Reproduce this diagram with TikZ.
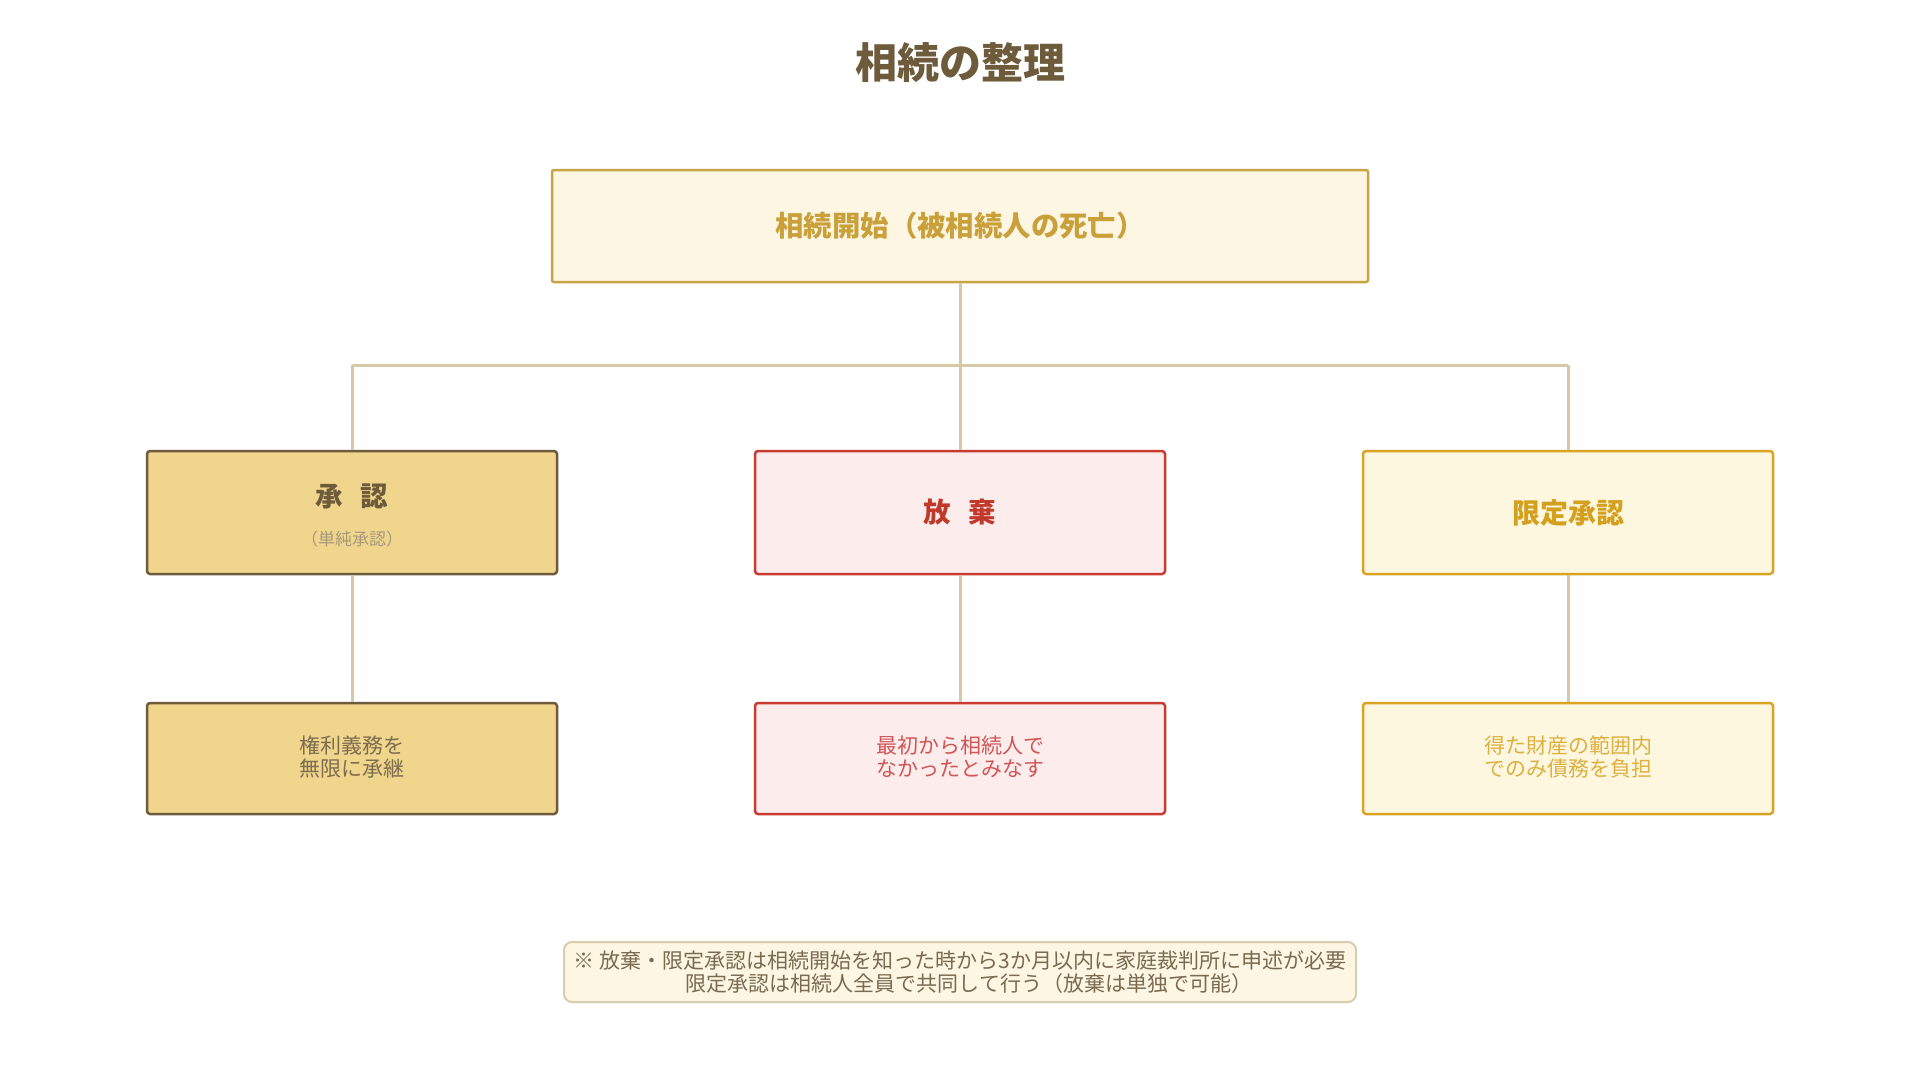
\documentclass[tikz,border=0pt]{standalone}
\usepackage{fontspec}
\newfontfamily\jp{Noto Sans CJK JP}
\definecolor{titlec}{HTML}{6E5B3C}
\definecolor{topfill}{HTML}{FDF6E3}
\definecolor{topdraw}{HTML}{C9A445}
\definecolor{toptext}{HTML}{C9A03A}
\definecolor{accfill}{HTML}{F0D68C}
\definecolor{accdraw}{HTML}{6E5B3C}
\definecolor{accsub}{HTML}{A8987A}
\definecolor{acctext}{HTML}{7D6C4E}
\definecolor{renfill}{HTML}{FDECEC}
\definecolor{rendraw}{HTML}{C83A32}
\definecolor{rentitle}{HTML}{C0392B}
\definecolor{rentext}{HTML}{D05555}
\definecolor{limfill}{HTML}{FEF7E0}
\definecolor{limdraw}{HTML}{D8A422}
\definecolor{limtitle}{HTML}{D4A020}
\definecolor{limtext}{HTML}{DDB040}
\definecolor{linkc}{HTML}{D6C9A6}
\definecolor{notefill}{HTML}{FDF6E3}
\definecolor{notedraw}{HTML}{D9CDAF}
\definecolor{notetext}{HTML}{7A6A50}
\tikzset{
  box/.style={draw, line width=2.5pt, rounded corners=3pt, minimum width=410pt, inner sep=0pt},
  midbox/.style={box, minimum height=123pt},
  lowbox/.style={box, minimum height=111pt},
  link/.style={draw=linkc, line width=3pt},
  lowtext/.style={font=\jp\fontsize{21}{23.5}\selectfont, align=center},
  midtitle/.style={font=\jp\bfseries\fontsize{27.5}{30}\selectfont},
}
\begin{document}
\begin{tikzpicture}[x=1pt,y=-1pt]
\useasboundingbox (0,0) rectangle (1920,1092);
\fill[white] (0,0) rectangle (1920,1092);

\node[font=\jp\bfseries\fontsize{42}{48}\selectfont, text=titlec] (title) at (960,63) {相続の整理};

\node[draw=topdraw, fill=topfill, line width=2.5pt, rounded corners=2pt, minimum width=816pt, minimum height=112pt, inner sep=0pt,
      font=\jp\bfseries\fontsize{28.4}{32}\selectfont, text=toptext] (start) at (960,226) {相続開始（被相続人の死亡）};

% middle row
\node[midbox, draw=accdraw, fill=accfill] (acc) at (352,512.5) {};
\node[midtitle, text=accdraw] (acct) at (352,496) {承\hspace{0.62em}認};
\node[font=\jp\fontsize{17}{20}\selectfont, text=accsub] (accs) at (352,539) {（単純承認）};

\node[midbox, draw=rendraw, fill=renfill, midtitle, text=rentitle] (ren) at (960,512.5) {放\hspace{0.62em}棄};

\node[midbox, draw=limdraw, fill=limfill, font=\jp\bfseries\fontsize{28}{30}\selectfont, text=limtitle] (lim) at (1568,512.5) {限定承認};

% bottom row
\node[lowbox, draw=accdraw, fill=accfill] (accb) at (352,758.5) {};
\node[lowtext, text=acctext] (accbt) at (352,757) {権利義務を\\無限に承継};

\node[lowbox, draw=rendraw, fill=renfill] (renb) at (960,758.5) {};
\node[lowtext, text=rentext] (renbt) at (960,757) {最初から相続人で\\なかったとみなす};

\node[lowbox, draw=limdraw, fill=limfill] (limb) at (1568,758.5) {};
\node[lowtext, text=limtext] (limbt) at (1568,757) {得た財産の範囲内\\でのみ債務を負担};

% connectors
\coordinate (jc) at (960,365);
\coordinate (jl) at (352,365);
\coordinate (jr) at (1568,365);
\path[link] (start.south) -- (jc);
\path[link] (jl) -- (jr);
\path[link] (jl) -- (acc.north);
\path[link] (jc) -- (ren.north);
\path[link] (jr) -- (lim.north);
\path[link] (acc.south) -- (accb.north);
\path[link] (ren.south) -- (renb.north);
\path[link] (lim.south) -- (limb.north);

% note
\node[draw=notedraw, fill=notefill, line width=2pt, rounded corners=8pt, minimum width=792pt, minimum height=60pt, inner sep=0pt,
      font=\jp\fontsize{21}{23.5}\selectfont, text=notetext, align=center] (note) at (960,972)
  {※ 放棄・限定承認は相続開始を知った時から3か月以内に家庭裁判所に申述が必要\\\hspace*{18pt}限定承認は相続人全員で共同して行う（放棄は単独で可能）};
\end{tikzpicture}
\end{document}
